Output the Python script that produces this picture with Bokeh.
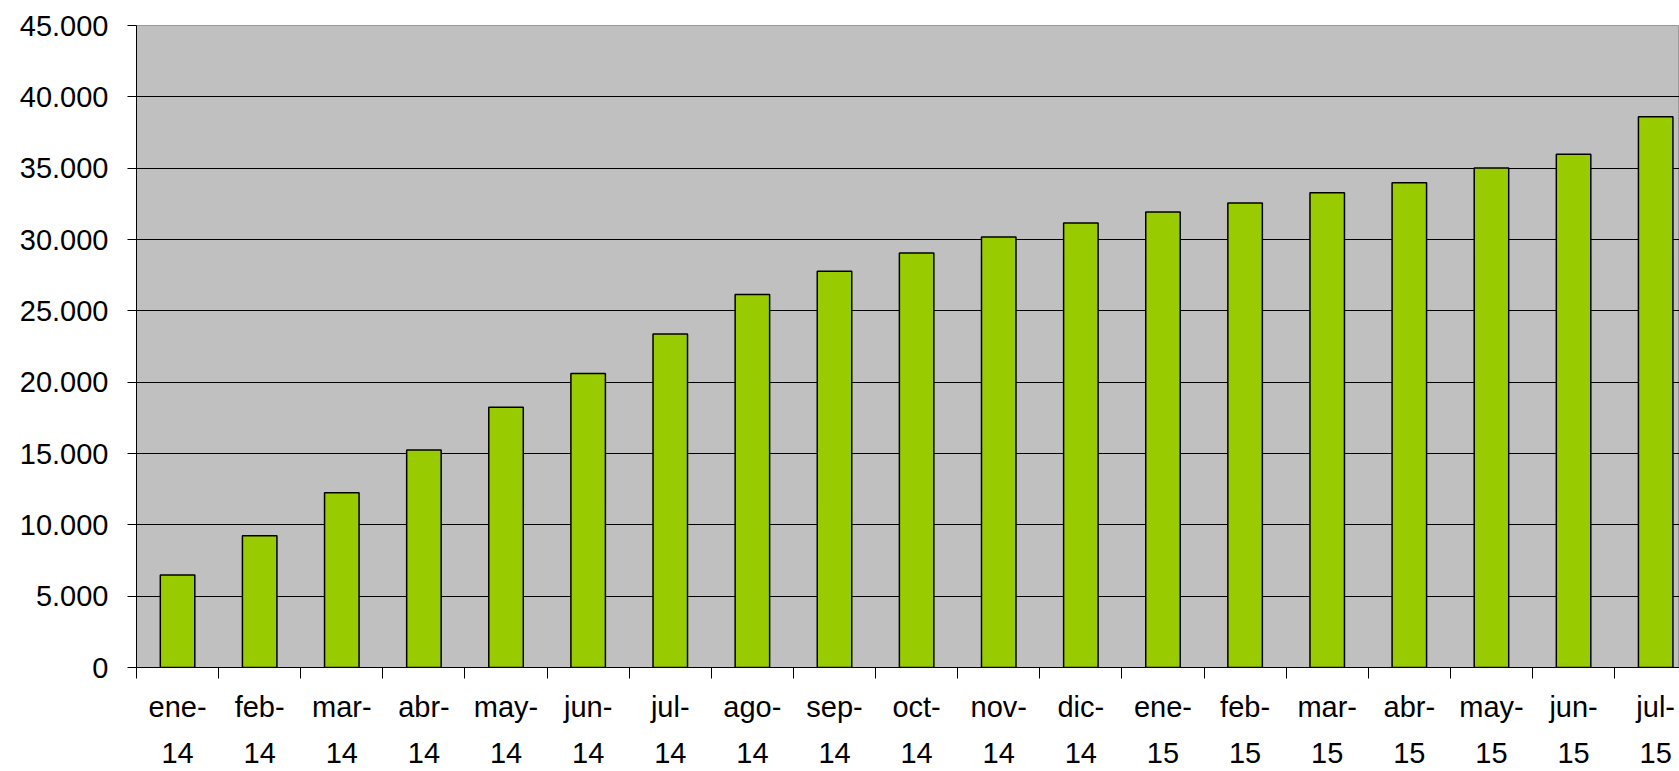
from bokeh.plotting import figure
from bokeh.models import Range1d, FixedTicker
from bokeh.embed import file_html
from bokeh.resources import INLINE

months = ["ene-\n14", "feb-\n14", "mar-\n14", "abr-\n14", "may-\n14", "jun-\n14", "jul-\n14",
          "ago-\n14", "sep-\n14", "oct-\n14", "nov-\n14", "dic-\n14", "ene-\n15", "feb-\n15",
          "mar-\n15", "abr-\n15", "may-\n15", "jun-\n15", "jul-\n15"]
values = [6480, 9230, 12250, 15250, 18250, 20600, 23380, 26140, 27770, 29050, 30170,
          31160, 31920, 32550, 33270, 33980, 35010, 35980, 38600]
y_ticks = [0, 5000, 10000, 15000, 20000, 25000, 30000, 35000, 40000, 45000]
y_labels = ["0", "5.000", "10.000", "15.000", "20.000", "25.000", "30.000", "35.000", "40.000", "45.000"]

centers = [i + 0.5 for i in range(len(months))]
bounds = [i for i in range(len(months) + 1)]

FONT = "Liberation Sans"

p = figure(width=1679, height=771, output_backend="svg", toolbar_location=None,
           x_range=Range1d(0, 18.79), y_range=Range1d(0, 45000))
p.min_border_left = 136
p.min_border_right = 0
p.min_border_top = 25
p.min_border_bottom = 10
p.background_fill_color = "#C0C0C0"
p.border_fill_color = "white"
p.outline_line_color = "#999999"

p.vbar(x=centers, top=values, width=0.42, bottom=0,
       fill_color="#99CC00", line_color="black", line_width=1.5)

# y axis
p.yaxis.ticker = FixedTicker(ticks=y_ticks)
p.yaxis.major_label_overrides = {t: l for t, l in zip(y_ticks, y_labels)}
p.yaxis.major_tick_out = 9
p.yaxis.major_tick_in = 0
p.yaxis.minor_tick_line_color = None
p.yaxis.major_label_standoff = 19
p.yaxis.major_label_text_font = FONT
p.yaxis.major_label_text_font_size = "29px"
p.yaxis.major_label_text_color = "black"
p.yaxis.axis_line_color = "black"
p.yaxis.major_tick_line_color = "black"

# x axis
p.xaxis.ticker = FixedTicker(ticks=centers, minor_ticks=bounds)
p.xaxis.major_label_overrides = {c: m for c, m in zip(centers, months)}
p.xaxis.major_tick_line_color = None
p.xaxis.major_tick_out = 0
p.xaxis.major_tick_in = 0
p.xaxis.minor_tick_out = 11
p.xaxis.minor_tick_in = 0
p.xaxis.minor_tick_line_color = "black"
p.xaxis.major_label_standoff = 12
p.xaxis.major_label_text_font = FONT
p.xaxis.major_label_text_font_size = "29px"
p.xaxis.major_label_text_color = "black"
p.xaxis.major_label_text_line_height = 1.45
p.xaxis.axis_line_color = "black"

p.xgrid.grid_line_color = None
p.ygrid.ticker = FixedTicker(ticks=y_ticks)
p.ygrid.grid_line_color = "black"
p.ygrid.grid_line_width = 1

open("out.html", "w").write(file_html(p, INLINE))
